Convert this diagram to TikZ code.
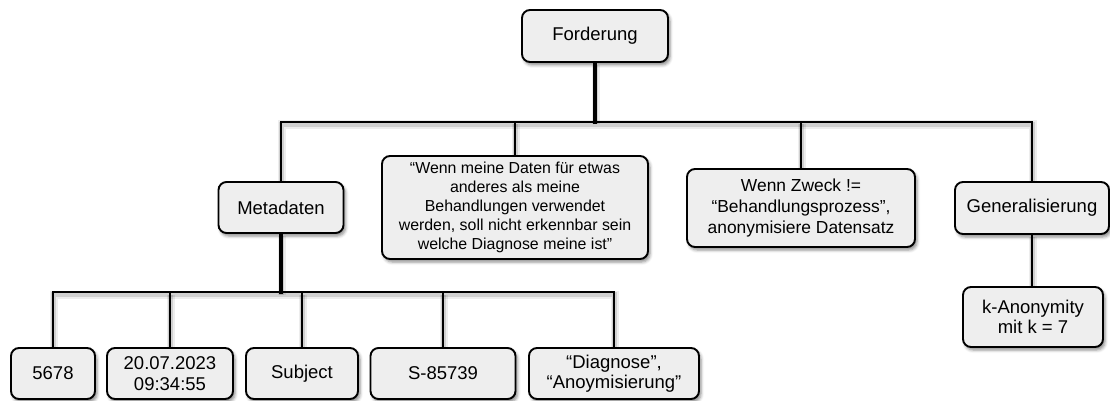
\documentclass[tikz,border=0pt]{standalone}
\usepackage{fontspec}
\setmainfont{Liberation Sans}
\usetikzlibrary{shadows.blur,backgrounds}
\definecolor{boxfill}{HTML}{EEEEEE}
\tikzset{
  box/.style={draw=black, line width=1.9pt, fill=boxfill, rounded corners=8pt,
    align=center, inner sep=0pt, font=\fontsize{18.5}{20.5}\selectfont,
    blur shadow={shadow xshift=2pt, shadow yshift=-3pt,
      shadow blur radius=3pt, shadow opacity=45}},
  lineshade/.style={
    preaction={draw=black, opacity=0.07, line width=8pt,
      transform canvas={shift={(0.5pt,-2.5pt)}}},
    preaction={draw=black, opacity=0.12, line width=4.5pt,
      transform canvas={shift={(0.5pt,-2.5pt)}}}},
  link/.style={lineshade, line width=1.9pt, line join=miter, line cap=rect},
  trunk/.style={lineshade, line width=3.4pt, line cap=rect}
}
\begin{document}
\begin{tikzpicture}[x=1pt, y=-1pt]
\useasboundingbox (0,0) rectangle (1110,401);

% top level
\node[box, minimum width=146pt, minimum height=52pt] (ford) at (595,36) {Forderung};

% second level
\node[box, minimum width=125pt, minimum height=51pt] (meta) at (281,207.5) {Metadaten};
\node[box, minimum width=266pt, minimum height=103pt,
      font=\fontsize{15.9}{19}\selectfont] (quote) at (515,207.5)
  {“Wenn meine Daten für etwas\\anderes als meine\\Behandlungen verwendet\\werden, soll nicht erkennbar sein\\welche Diagnose meine ist”};
\node[box, minimum width=228pt, minimum height=78pt,
      font=\fontsize{17.4}{21}\selectfont] (zweck) at (801,208)
  {Wenn Zweck !=\\“Behandlungsprozess”,\\anonymisiere Datensatz};
\node[box, minimum width=154pt, minimum height=52pt] (gen) at (1032,208) {Generalisierung};

% third level
\node[box, minimum width=140pt, minimum height=60pt] (kanon) at (1033,317)
  {k-Anonymity\\mit k = 7};
\node[box, minimum width=84pt, minimum height=51pt] (b1) at (53,373.5) {5678};
\node[box, minimum width=126pt, minimum height=51pt] (b2) at (170,373.5) {20.07.2023\\09:34:55};
\node[box, minimum width=112pt, minimum height=51pt] (b3) at (302,373.5) {Subject};
\node[box, minimum width=145pt, minimum height=51pt] (b4) at (443,373.5) {S-85739};
\node[box, minimum width=170pt, minimum height=51pt] (b5) at (614,373.5) {“Diagnose”,\\“Anoymisierung”};

% bus junctions
\coordinate (bus1) at (595,122);
\coordinate (bus2) at (281,292);

\begin{scope}[on background layer]
  \draw[link] (meta.north) |- (bus1) -| (gen.north);
  \draw[link] (quote.north) -- (quote.north |- bus1);
  \draw[link] (zweck.north) -- (zweck.north |- bus1);
  \draw[trunk] (ford.south) -- (bus1);
  \draw[link] (gen.south) -- (gen.south |- kanon.north);
  \draw[link] (b1.north) |- (bus2) -| (b5.north);
  \draw[link] (b2.north) -- (b2.north |- bus2);
  \draw[link] (b3.north) -- (b3.north |- bus2);
  \draw[link] (b4.north) -- (b4.north |- bus2);
  \draw[trunk] (meta.south) -- (bus2);
\end{scope}
\end{tikzpicture}
\end{document}
